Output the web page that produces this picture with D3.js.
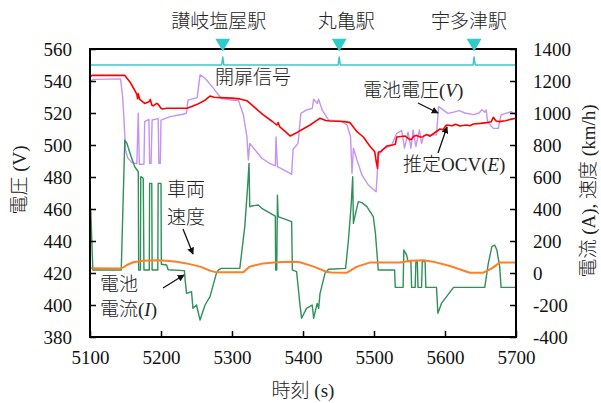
<!DOCTYPE html>
<html>
<head>
<meta charset="utf-8">
<script src="https://cdn.jsdelivr.net/npm/d3@7"></script>
<style>
  html, body { margin: 0; padding: 0; background: #fff; }
  svg { display: block; }
</style>
</head>
<body>
<svg id="chart" width="601" height="403"></svg>
<script>
// ---- data ----------------------------------------------------------------
// time axis ticks (s), voltage ticks (V), current/speed ticks (A, km/h)
const timeTicks = [5100, 5200, 5300, 5400, 5500, 5600, 5700];
const voltTicks = [380, 400, 420, 440, 460, 480, 500, 520, 540, 560];
const rightTicks = [-400, -200, 0, 200, 400, 600, 800, 1000, 1200, 1400];

// stations passed and their arrival time (s)
const stationNames = ["讃岐塩屋駅", "丸亀駅", "宇多津駅"];
const stationTimes = [5287, 5451, 5641];

// door-open signal (0 = closed, 1 = open pulse)
const doorT = [5100, 5285.5, 5287, 5288.5, 5449.5, 5451, 5452.5, 5639.5, 5641, 5642.5, 5700];
const doorV = [0, 0, 1, 0, 0, 1, 0, 0, 1, 0, 0];

// estimated open-circuit voltage E (V)
const ocvT = [5100, 5101, 5103, 5149, 5156, 5162, 5166, 5167, 5168, 5170, 5177, 5183, 5185, 5187, 5189, 5194, 5196,
  5200, 5202, 5208, 5237, 5251, 5262, 5269, 5275, 5283, 5300, 5311, 5321, 5333, 5344, 5356, 5363, 5365, 5367, 5376,
  5382, 5391, 5400, 5410, 5420, 5424, 5432, 5438, 5450, 5459, 5466, 5476, 5485, 5494, 5501, 5503, 5505, 5506, 5510,
  5518, 5526, 5530, 5532, 5544, 5550, 5553, 5556, 5560, 5565, 5569, 5574, 5579, 5585, 5593, 5597, 5602, 5610, 5615,
  5621, 5630, 5635, 5640, 5650, 5659, 5665, 5668, 5672, 5677, 5685, 5692, 5700];
const ocvV = [545.2, 543, 543.5, 543.5, 539.6, 535, 531.7, 529, 532, 528.5, 526, 527, 528.5, 525, 524.4, 526, 525.5,
  523, 522.5, 523, 523, 525.4, 528, 530.6, 529.8, 529.6, 529.3, 528.8, 527.7, 523, 518.8, 515, 512.5, 514, 511.5, 508,
  505.6, 507.7, 510, 512.5, 515.5, 516.7, 515.3, 515, 514.8, 514.6, 514, 508.3, 505, 499.4, 495.8, 490, 485.4, 495.5, 496,
  499.4, 500, 500.5, 505, 505.6, 503.5, 503.5, 505.5, 506, 505, 505.2, 506.5, 505.5, 507.5, 510, 509.5, 512.5, 512, 513,
  511.9, 512.5, 512, 513.1, 513.5, 514, 514.5, 517.3, 515, 514.6, 515.2, 516, 516.7];

// battery terminal voltage V (V)
const battT = [5100, 5101, 5104, 5143, 5146, 5148, 5150, 5153, 5159, 5166, 5168, 5169.5, 5176, 5177, 5183, 5184,
  5186, 5187.5, 5196, 5197, 5199, 5200, 5213, 5231, 5236, 5238, 5251, 5255, 5262, 5274, 5285, 5302, 5309, 5316, 5321,
  5323, 5325, 5342, 5353, 5361, 5362, 5364, 5382, 5384, 5386, 5393, 5397, 5405, 5413, 5415, 5420, 5422, 5427, 5436,
  5455, 5462, 5467, 5469, 5471, 5476, 5483, 5492, 5503, 5506, 5511, 5525, 5532, 5539, 5543, 5548, 5552, 5555, 5559,
  5564, 5567, 5570, 5574, 5588, 5591, 5604, 5612, 5620, 5628, 5640, 5648, 5652, 5656, 5658, 5660, 5668, 5675, 5679,
  5693, 5700];
const battV = [519.8, 539.6, 541, 541.3, 530, 515, 497, 492, 489, 488.3, 519.8, 488, 488, 514.6, 516, 488.5,
  488.5, 515.6, 516.5, 488.5, 488.5, 515.6, 517.7, 519.2, 520, 528, 529.6, 543.8, 541.7, 535.4, 529, 528, 528, 518.8, 505.2,
  490.6, 501, 491.7, 488.5, 487, 505, 486.5, 482.3, 481.5, 497.3, 501, 519.8, 521.9, 522.9, 528.6, 526, 528.6, 521.9, 515.6,
  514.6, 512.5, 505.2, 482.3, 498, 490.6, 481.3, 475, 470.8, 492.7, 496.9, 500, 507.3, 509, 498, 508, 498, 509.4, 499,
  509.4, 501, 506, 506.3, 506.3, 524, 519.8, 520.5, 521.5, 520, 519, 520, 522, 520.5, 522, 514.6, 510.4, 510.4, 518.8,
  520.8, 519];

// battery current I (A)
const currT = [5100, 5101, 5104, 5144, 5149, 5152, 5158, 5163, 5168, 5168.5, 5171, 5171.5, 5175, 5176, 5183.5, 5184,
  5187, 5187.5, 5195.5, 5196, 5200, 5200.5, 5208, 5210, 5233, 5234, 5236, 5243, 5245, 5250, 5255, 5262, 5269, 5278,
  5281, 5285, 5311, 5318, 5322, 5324, 5325, 5328, 5337, 5342, 5361, 5361.5, 5363, 5364, 5365, 5384, 5385, 5391, 5396,
  5398, 5405, 5413, 5415, 5420, 5422, 5424, 5431, 5436, 5460, 5464, 5468, 5470, 5471, 5474, 5478, 5483, 5490, 5499,
  5502, 5506, 5529, 5530, 5541, 5542, 5546, 5548, 5552, 5553, 5558, 5559, 5561, 5562, 5567, 5568, 5572, 5573, 5588,
  5590, 5595, 5612, 5656, 5661, 5666, 5670, 5673, 5677, 5679, 5699.5, 5700];
const currA = [420, 400, 19, 19, 831, 810, 727, 664, 633, 19, 19, 602, 592, 19, 19, 560,
  560, 19, 19, 560, 560, 55, 50, 20, 15, -44, -127, -117, -221, -200, -294, -200, -148, -2,
  19, 29, 29, 290, 540, 685, 414, 419, 425, 404, 356, 19, 19, 487, 352, 321, 19, 8, -210,
  -283, -221, -200, -283, -190, -221, -127, -2, 23, 29, 206, 435, 602, 310, 373, 446, 440, 415, 352,
  248, 19, 19, -90, -90, 144, 112, 71, 71, -90, -90, 71, 71, -90, -90, 71, 71, -90, -90,
  -252, -190, -90, -90, 60, 165, 175, 144, 40, -90, -90, 123];

// vehicle speed (km/h)
const speedT = [5100, 5142, 5147, 5152, 5161, 5175, 5194, 5208, 5222, 5236, 5255, 5269, 5278, 5316, 5325, 5344,
  5363, 5386, 5396, 5415, 5433, 5440, 5462, 5476, 5494, 5537, 5551, 5570, 5583, 5607, 5635, 5654, 5666, 5677, 5700];
const speedK = [29, 28, 35, 50, 67, 77, 79, 77, 70, 60, 40, 15, 4, 4, 40, 60,
  67, 71, 67, 40, 8, 3, 2, 40, 65, 65, 77, 79, 71, 44, 2, 2, 29, 65, 65];

// ---- layout ----------------------------------------------------------------
const SERIF = "Liberation Serif";
const JP = "Noto Sans CJK JP";
const plot = { left: 90, right: 516, top: 49, bottom: 337 };
const svg = d3.select("#chart");

const x = d3.scaleLinear().domain([5100, 5700]).range([plot.left, plot.right]);
const yL = d3.scaleLinear().domain([380, 560]).range([plot.bottom, plot.top]);
const yR = d3.scaleLinear().domain([-400, 1400]).range([plot.bottom, plot.top]);
const yDoor = d3.scaleLinear().domain([0, 1]).range([yL(550), yL(555)]);

const defs = svg.append("defs");
defs.append("clipPath").attr("id", "plotClip")
  .append("rect")
  .attr("x", plot.left).attr("y", plot.top - 12)
  .attr("width", plot.right - plot.left + 2).attr("height", plot.bottom - plot.top + 12);

const marker = defs.append("marker")
  .attr("id", "arrow").attr("viewBox", "0 0 10 10")
  .attr("refX", 9).attr("refY", 5)
  .attr("markerWidth", 7).attr("markerHeight", 7)
  .attr("markerUnits", "userSpaceOnUse")
  .attr("orient", "auto");
marker.append("path").attr("d", "M0,0 L10,5 L0,10 z").attr("fill", "#111");

const zip = (ts, vs) => ts.map((t, i) => [t, vs[i]]);
const layer = svg.append("g").attr("clip-path", "url(#plotClip)");

function drawSeries(ts, vs, yScale, color, width) {
  const line = d3.line().x(d => x(d[0])).y(d => yScale(d[1]));
  layer.append("path")
    .datum(zip(ts, vs))
    .attr("d", line)
    .attr("fill", "none")
    .attr("stroke", color)
    .attr("stroke-width", width)
    .attr("stroke-linejoin", "round");
}

drawSeries(doorT, doorV, yDoor, "#3cc8c8", 1.5);
drawSeries(battT, battV, yL, "#c493f5", 1.4);
drawSeries(ocvT, ocvV, yL, "#ff0000", 1.6);
drawSeries(currT, currA, yR, "#2e9158", 1.4);
drawSeries(speedT, speedK, yR, "#ff7f24", 2);

// ---- axes ------------------------------------------------------------------
const axisBottom = d3.axisBottom(x).tickValues(timeTicks).tickSize(-6).tickPadding(14).tickFormat(d3.format("d"));
const axisLeft = d3.axisLeft(yL).tickValues(voltTicks).tickSize(-6).tickPadding(18);
const axisRight = d3.axisRight(yR).tickValues(rightTicks).tickSize(-6).tickPadding(17)
  .tickFormat(d => String(d));

function styleAxis(g) {
  g.attr("font-family", SERIF).attr("font-size", 19);
  g.select(".domain").remove();
  g.selectAll(".tick line").attr("stroke", "#000").attr("stroke-width", 1.5);
  g.selectAll(".tick text")
    .attr("font-family", SERIF)
    .attr("font-size", 19)
    .attr("fill", "#111");
}

svg.append("g").attr("transform", `translate(0,${plot.bottom})`).call(axisBottom).call(styleAxis);
svg.append("g").attr("transform", `translate(${plot.left},0)`).call(axisLeft).call(styleAxis);
svg.append("g").attr("transform", `translate(${plot.right},0)`).call(axisRight).call(styleAxis);

// frame
svg.append("rect")
  .attr("x", plot.left).attr("y", plot.top)
  .attr("width", plot.right - plot.left).attr("height", plot.bottom - plot.top)
  .attr("fill", "none").attr("stroke", "#000").attr("stroke-width", 2);

// ---- station markers ---------------------------------------------------------
const stationLabelDx = [-4, 7, -5];
const tri = d3.symbol().type(d3.symbolTriangle).size(95);
stationTimes.forEach((t, i) => {
  svg.append("path")
    .attr("d", tri)
    .attr("transform", `translate(${x(t)},${plot.top - 6}) rotate(180)`)
    .attr("fill", "#2fcaca");
  svg.append("text")
    .attr("x", x(t) + stationLabelDx[i]).attr("y", 28)
    .attr("text-anchor", "middle")
    .attr("font-family", JP)
    .attr("font-weight", 300)
    .attr("font-size", 19)
    .attr("fill", "#222")
    .text(stationNames[i]);
});

// ---- axis titles --------------------------------------------------------------
function mixedText(sel, parts) {
  parts.forEach(p => {
    const span = sel.append("tspan")
      .attr("font-family", p.jp ? JP : SERIF)
      .attr("font-style", p.it ? "italic" : "normal")
      .text(p.t);
    if (p.jp) span.attr("font-weight", 300);
  });
  return sel;
}

mixedText(svg.append("text")
  .attr("transform", "translate(26,180) rotate(-90)")
  .attr("text-anchor", "middle").attr("font-size", 19).attr("fill", "#222"),
  [{ t: "電圧", jp: true }, { t: " (V)" }]);

mixedText(svg.append("text")
  .attr("transform", "translate(595,191) rotate(-90)")
  .attr("text-anchor", "middle").attr("font-size", 19).attr("fill", "#222"),
  [{ t: "電流", jp: true }, { t: " (A), " }, { t: "速度", jp: true }, { t: " (km/h)" }]);

mixedText(svg.append("text")
  .attr("x", 303).attr("y", 397)
  .attr("text-anchor", "middle").attr("font-size", 19).attr("fill", "#222"),
  [{ t: "時刻", jp: true }, { t: " (s)" }]);

// ---- annotations ----------------------------------------------------------------
function note(xp, yp, parts) {
  return mixedText(svg.append("text").attr("x", xp).attr("y", yp)
    .attr("font-size", 19).attr("fill", "#222"), parts);
}
note(215, 84, [{ t: "開扉信号", jp: true }]);
note(363, 97, [{ t: "電池電圧", jp: true }, { t: "(" }, { t: "V", it: true }, { t: ")" }]);
note(403, 171, [{ t: "推定", jp: true }, { t: "OCV(" }, { t: "E", it: true }, { t: ")" }]);
note(167, 196, [{ t: "車両", jp: true }]);
note(167, 224, [{ t: "速度", jp: true }]);
note(100, 291, [{ t: "電池", jp: true }]);
note(100, 316, [{ t: "電流", jp: true }, { t: "(" }, { t: "I", it: true }, { t: ")" }]);

const arrows = [
  [183, 229, 193, 254],
  [163, 288, 184, 275],
  [418, 103, 438, 113],
  [438, 153, 447, 127]
];
arrows.forEach(a => {
  svg.append("line")
    .attr("x1", a[0]).attr("y1", a[1]).attr("x2", a[2]).attr("y2", a[3])
    .attr("stroke", "#111").attr("stroke-width", 1.3)
    .attr("marker-end", "url(#arrow)");
});
</script>
</body>
</html>
